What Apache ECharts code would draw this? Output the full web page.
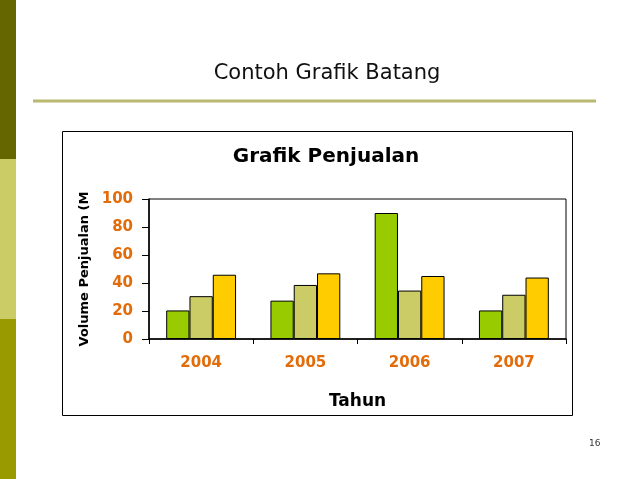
<!DOCTYPE html>
<html>
<head>
    <meta charset="utf-8">
    <title>Contoh Grafik Batang</title>
    <script src="https://cdn.jsdelivr.net/npm/echarts@6/dist/echarts.min.js"></script>
    <style>
        html, body { margin: 0; padding: 0; background: #fff; }
        #main { width: 638px; height: 479px; }
    </style>
</head>
<body>
    <div id="main"></div>
    <script type="text/javascript">
        // data (classic Excel sample values)
        var years = ['2004', '2005', '2006', '2007'];
        var seriesA = [20.4, 27.4, 90, 20.4];
        var seriesB = [30.6, 38.6, 34.6, 31.6];
        var seriesC = [45.9, 46.9, 45, 43.9];
        var yTicks = [0, 20, 40, 60, 80, 100];

        var orange = '#e36c0a';
        var font = '"DejaVu Sans", Verdana, sans-serif';

        var myChart = echarts.init(document.getElementById('main'));

        function barSeries(name, color, values) {
            return {
                name: name,
                type: 'bar',
                barGap: 0,
                barCategoryGap: '33%',
                itemStyle: {
                    color: color,
                    borderColor: '#000',
                    borderWidth: 1
                },
                data: values
            };
        }

        var option = {
            animation: false,
            title: [{
                text: 'Contoh Grafik Batang',
                left: 322,
                top: 58,
                textAlign: 'center',
                textStyle: { fontFamily: font, fontWeight: 'normal', fontSize: 21, color: '#111' }
            }, {
                text: 'Grafik Penjualan',
                left: 321,
                top: 142,
                textAlign: 'center',
                textStyle: { fontFamily: font, fontWeight: 'bold', fontSize: 20, color: '#000' }
            }],
            graphic: [
                // side bar blocks
                { type: 'rect', shape: { x: 0, y: 0, width: 16, height: 159 }, style: { fill: '#666600' } },
                { type: 'rect', shape: { x: 0, y: 159, width: 16, height: 160 }, style: { fill: '#cccc66' } },
                { type: 'rect', shape: { x: 0, y: 319, width: 16, height: 160 }, style: { fill: '#999900' } },
                // underline of the slide title
                { type: 'line', shape: { x1: 33, y1: 101, x2: 596, y2: 101 }, style: { stroke: '#b8b870', lineWidth: 3 } },
                // chart frame
                { type: 'rect', shape: { x: 62.5, y: 131.5, width: 510, height: 284 }, style: { fill: 'none', stroke: '#000', lineWidth: 1 } },
                // page number
                { type: 'text', left: 589, top: 439, style: { text: '16', fontSize: 9, fontFamily: font, fill: '#333' } }
            ],
            grid: {
                left: 149,
                right: 72,
                top: 199,
                bottom: 140,
                show: true,
                borderColor: '#000',
                borderWidth: 1
            },
            xAxis: {
                type: 'category',
                data: years,
                name: 'Tahun',
                nameLocation: 'middle',
                nameGap: 54,
                nameTextStyle: { fontFamily: font, fontWeight: 'bold', fontSize: 17, color: '#000' },
                axisLine: { lineStyle: { color: '#000', width: 1.5 } },
                axisTick: { show: true, length: 5, lineStyle: { color: '#000' } },
                axisLabel: { margin: 17, fontFamily: font, fontWeight: 'bold', fontSize: 15, color: orange }
            },
            yAxis: {
                type: 'value',
                min: yTicks[0],
                max: yTicks[yTicks.length - 1],
                interval: yTicks[1] - yTicks[0],
                name: 'Volume Penjualan (M',
                nameLocation: 'middle',
                nameGap: 55,
                nameRotate: 90,
                nameTextStyle: { fontFamily: font, fontWeight: 'bold', fontSize: 13, color: '#000' },
                axisLine: { show: true, lineStyle: { color: '#000', width: 1.5 } },
                axisTick: { show: true, length: 7, lineStyle: { color: '#000' } },
                splitLine: { show: false },
                axisLabel: { margin: 16, fontFamily: font, fontWeight: 'bold', fontSize: 15, color: orange }
            },
            series: [
                barSeries('Seri 1', '#99cc00', seriesA),
                barSeries('Seri 2', '#cccc66', seriesB),
                barSeries('Seri 3', '#ffcc00', seriesC)
            ]
        };

        myChart.setOption(option);
        window.onresize = myChart.resize;
    </script>
</body>
</html>
